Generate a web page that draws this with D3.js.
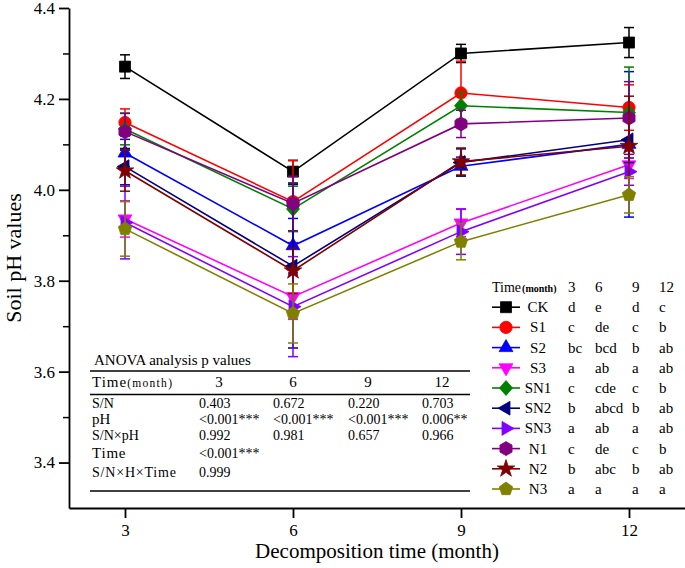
<!DOCTYPE html>
<html><head><meta charset="utf-8">
<script src="https://cdn.jsdelivr.net/npm/d3@7"></script>
<style>
html,body{margin:0;padding:0;background:#fff;}
text{font-family:"Liberation Serif","Times New Roman",serif;fill:#000;}
</style></head>
<body>
<svg id="chart" width="685" height="568"></svg>
<script>
// ---------- DATA ----------
const months = [3, 6, 9, 12];
const seriesNames = ["CK", "S1", "S2", "S3", "SN1", "SN2", "SN3", "N1", "N2", "N3"];
const seriesColors = ["#000000", "#ff0000", "#0000ff", "#ff00ff", "#008000", "#000080", "#8000ff", "#800080", "#800000", "#808000"];
const seriesShapes = ["square", "circle", "triUp", "triDown", "diamond", "triLeft", "triRight", "hexagon", "star", "pentagon"];

const CK  = [4.271, 4.040, 4.300, 4.324];
const S1  = [4.148, 3.974, 4.213, 4.181];
const S2  = [4.081, 3.877, 4.052, 4.100];
const S3  = [3.936, 3.765, 3.927, 4.055];
const SN1 = [4.134, 3.958, 4.185, 4.170];
const SN2 = [4.051, 3.832, 4.060, 4.110];
const SN3 = [3.928, 3.743, 3.908, 4.040];
const N1  = [4.128, 3.970, 4.145, 4.158];
const N2  = [4.042, 3.822, 4.062, 4.096];
const N3  = [3.914, 3.728, 3.886, 3.989];

const CK_err  = [0.026, 0.025, 0.020, 0.033];
const S1_err  = [0.030, 0.090, 0.070, 0.050];
const S2_err  = [0.030, 0.060, 0.020, 0.160];
const S3_err  = [0.040, 0.050, 0.030, 0.030];
const SN1_err = [0.035, 0.050, 0.030, 0.100];
const SN2_err = [0.040, 0.180, 0.030, 0.050];
const SN3_err = [0.080, 0.110, 0.050, 0.030];
const N1_err  = [0.040, 0.060, 0.030, 0.080];
const N2_err  = [0.045, 0.050, 0.030, 0.110];
const N3_err  = [0.060, 0.065, 0.040, 0.040];

const seriesValues = [CK, S1, S2, S3, SN1, SN2, SN3, N1, N2, N3];
const seriesErrors = [CK_err, S1_err, S2_err, S3_err, SN1_err, SN2_err, SN3_err, N1_err, N2_err, N3_err];

// significance letters (legend table)
const legendHeader = ["3", "6", "9", "12"];
const letters = [
  ["d", "e", "d", "c"],
  ["c", "de", "c", "b"],
  ["bc", "bcd", "b", "ab"],
  ["a", "ab", "a", "ab"],
  ["c", "cde", "c", "b"],
  ["b", "abcd", "b", "ab"],
  ["a", "ab", "a", "ab"],
  ["c", "de", "c", "b"],
  ["b", "abc", "b", "ab"],
  ["a", "a", "a", "a"]
];

// ANOVA table
const anovaTitle = "ANOVA analysis p values";
const anovaHeader = ["3", "6", "9", "12"];
const anovaRowLabels = ["S/N", "pH", "S/N×pH", "Time", "S/N×H×Time"];
const anovaRows = [
  ["0.403", "0.672", "0.220", "0.703"],
  ["<0.001***", "<0.001***", "<0.001***", "0.006**"],
  ["0.992", "0.981", "0.657", "0.966"],
  ["<0.001***"],
  ["0.999"]
];

const yTicks = [3.4, 3.6, 3.8, 4.0, 4.2, 4.4];
const yMinor = [3.5, 3.7, 3.9, 4.1, 4.3];
const xTicks = [3, 6, 9, 12];

// ---------- CHART ----------
const svg = d3.select("#chart");
const x = d3.scaleLinear().domain([2, 13]).range([69, 685]);
const y = d3.scaleLinear().domain([3.3, 4.4]).range([508, 8]);

// axes
const yAxis = d3.axisLeft(y).tickValues(yTicks).tickFormat(d3.format(".1f")).tickSizeInner(10).tickSizeOuter(0).tickPadding(4);
const gy = svg.append("g").attr("transform", `translate(${x(2)},0)`).call(yAxis);
gy.selectAll("text").style("font-size", "17px").style("font-family", '"Liberation Serif",serif');
gy.selectAll("line,path").attr("stroke", "#000").attr("stroke-width", 1.8);
const gyMinor = svg.append("g").attr("transform", `translate(${x(2)},0)`)
  .call(d3.axisLeft(y).tickValues(yMinor).tickSizeInner(6).tickSizeOuter(0).tickFormat(""));
gyMinor.select(".domain").remove();
gyMinor.selectAll("line").attr("stroke", "#000").attr("stroke-width", 1.5);

const xAxis = d3.axisBottom(x).tickValues(xTicks).tickSizeInner(10).tickSizeOuter(0).tickPadding(6);
const gx = svg.append("g").attr("transform", `translate(0,${y(3.3)})`).call(xAxis);
gx.selectAll("text").style("font-size", "17px").style("font-family", '"Liberation Serif",serif');
gx.selectAll("line,path").attr("stroke", "#000").attr("stroke-width", 1.8);

// axis titles
svg.append("text").attr("transform", `translate(21,${(y(4.4) + y(3.3)) / 2}) rotate(-90)`)
  .attr("text-anchor", "middle").style("font-size", "22px").text("Soil pH values");
svg.append("text").attr("x", (x(2) + x(13)) / 2).attr("y", 558)
  .attr("text-anchor", "middle").style("font-size", "21px").text("Decomposition time (month)");

// marker shapes
function poly(n, r, rot) {
  const pts = [];
  for (let i = 0; i < n; i++) {
    const a = rot + i * 2 * Math.PI / n;
    pts.push([r * Math.sin(a), -r * Math.cos(a)]);
  }
  return "M" + pts.map(p => p[0].toFixed(2) + "," + p[1].toFixed(2)).join("L") + "Z";
}
function shapePath(type) {
  switch (type) {
    case "square": return "M-5.5,-5.5L5.5,-5.5L5.5,5.5L-5.5,5.5Z";
    case "circle": return d3.symbol(d3.symbolCircle, 120)();
    case "triUp": return poly(3, 8, 0);
    case "triDown": return poly(3, 8, Math.PI);
    case "triLeft": return poly(3, 8, -Math.PI / 2);
    case "triRight": return poly(3, 8, Math.PI / 2);
    case "diamond": return "M0,-7.5L6.5,0L0,7.5L-6.5,0Z";
    case "hexagon": return poly(6, 7, 0);
    case "star": return d3.symbol(d3.symbolStar, 95)();
    case "pentagon": return poly(5, 7, 0);
  }
}

const line = d3.line().x(d => x(d.m)).y(d => y(d.v));
const capW = 5;

seriesNames.forEach((name, si) => {
  const col = seriesColors[si];
  const pts = months.map((m, i) => ({ m, v: seriesValues[si][i], e: seriesErrors[si][i] }));
  const g = svg.append("g").attr("class", "series-" + name);
  // error bars
  const eb = g.selectAll(".eb").data(pts).enter().append("g");
  eb.append("line").attr("x1", d => x(d.m)).attr("x2", d => x(d.m))
    .attr("y1", d => y(d.v - d.e)).attr("y2", d => y(d.v + d.e))
    .attr("stroke", col).attr("stroke-width", 1.5);
  eb.append("line").attr("x1", d => x(d.m) - capW).attr("x2", d => x(d.m) + capW)
    .attr("y1", d => y(d.v + d.e)).attr("y2", d => y(d.v + d.e))
    .attr("stroke", col).attr("stroke-width", 1.5);
  eb.append("line").attr("x1", d => x(d.m) - capW).attr("x2", d => x(d.m) + capW)
    .attr("y1", d => y(d.v - d.e)).attr("y2", d => y(d.v - d.e))
    .attr("stroke", col).attr("stroke-width", 1.5);
  // line
  g.append("path").datum(pts).attr("d", line).attr("fill", "none")
    .attr("stroke", col).attr("stroke-width", 1.6);
  // markers
  g.selectAll(".mk").data(pts).enter().append("path")
    .attr("d", shapePath(seriesShapes[si]))
    .attr("transform", d => `translate(${x(d.m)},${y(d.v)})`)
    .attr("fill", col).attr("stroke", col).attr("stroke-width", 0.8);
});

// ---------- LEGEND with significance letters ----------
const lg = svg.append("g").attr("class", "legend");
const lgX0 = 492, lgRow0 = 292, lgStep = 20.2;
const colX = [568, 595, 632, 659];
const hdr = lg.append("text").attr("x", lgX0).attr("y", lgRow0).style("font-size", "14px");
hdr.append("tspan").text("Time");
hdr.append("tspan").style("font-size", "10px").style("font-weight", "bold").attr("dx", 1).text("(month)");
legendHeader.forEach((h, i) => lg.append("text").attr("x", colX[i]).attr("y", lgRow0).style("font-size", "15px").text(h));

seriesNames.forEach((name, si) => {
  const cy = lgRow0 + (si + 1) * lgStep - 5;
  const col = seriesColors[si];
  lg.append("line").attr("x1", lgX0).attr("x2", lgX0 + 28).attr("y1", cy).attr("y2", cy)
    .attr("stroke", col).attr("stroke-width", 1.6);
  lg.append("path").attr("d", shapePath(seriesShapes[si]))
    .attr("transform", `translate(${lgX0 + 14},${cy})`).attr("fill", col).attr("stroke", col).attr("stroke-width", 0.8);
  lg.append("text").attr("x", 538).attr("y", cy + 5).attr("text-anchor", "middle").style("font-size", "15px").text(name);
  letters[si].forEach((t, i) => lg.append("text").attr("x", colX[i]).attr("y", cy + 5).style("font-size", "15px").text(t));
});

// ---------- ANOVA TABLE ----------
const tb = svg.append("g").attr("class", "anova");
const tX0 = 90, tX1 = 470;
const valX = [199, 273, 348, 422];
tb.append("text").attr("x", 94).attr("y", 365).style("font-size", "15px").text(anovaTitle);
[371, 394.5, 491].forEach(yy => tb.append("line").attr("x1", tX0).attr("x2", tX1).attr("y1", yy).attr("y2", yy)
  .attr("stroke", "#000").attr("stroke-width", 1.3));
const th = tb.append("text").attr("x", 92).attr("y", 387).style("font-size", "15px");
th.append("tspan").style("letter-spacing", "1px").text("Time");
th.append("tspan").style("font-size", "11.5px").style("letter-spacing", "1.3px").text("(month)");
anovaHeader.forEach((h, i) => tb.append("text").attr("x", valX[i] + 20).attr("y", 387)
  .attr("text-anchor", "middle").style("font-size", "15px").text(h));
const rowY = [408, 424, 440, 458, 477];
const rowSize = ["14px", "15px", "14px", "15px", "14px"];
anovaRowLabels.forEach((lab, r) => {
  tb.append("text").attr("x", 92).attr("y", rowY[r]).style("font-size", rowSize[r])
    .style("letter-spacing", r >= 3 ? "0.8px" : "0px").text(lab);
  anovaRows[r].forEach((v, c) => tb.append("text").attr("x", valX[c]).attr("y", rowY[r]).style("font-size", "14px").text(v));
});
</script>
</body></html>
